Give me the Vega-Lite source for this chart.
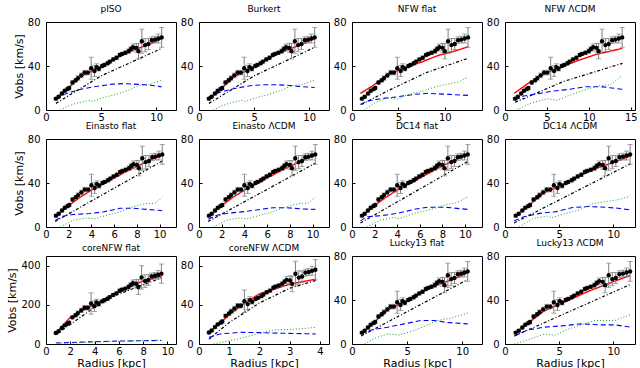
{
"$schema":"https://vega.github.io/schema/vega-lite/v6.json",
"padding":{"left":6,"top":4,"right":4,"bottom":2},
"background":"white",
"config":{"font":"DejaVu Sans","view":{"stroke":"black","strokeWidth":1},
"axis":{"grid":false,"domain":false,"labelFontSize":10,"labelColor":"black","tickColor":"black","tickSize":-3,"titleFontSize":11,"titleFontWeight":"normal","titleColor":"black","labelFlush":false,"labelOverlap":false,"labelBound":false,"labelSeparation":0},
"axisX":{"labelPadding":5,"titlePadding":1},
"axisY":{"labelPadding":9,"titlePadding":3},
"title":{"fontSize":9,"fontWeight":"normal","offset":3,"color":"black","anchor":"middle"}},
"datasets":{
"o":[
{"r":0.9,"rb":0.88,"rl":0.99,"rn":1.07,"rm":1.2,"rc":0.81,"rk":0.33,"v":10.3,"e":1,"vc":56.1,"ec":5.5,"vk":11.8,"ek":1.2},
{"r":1.15,"rb":1.12,"rl":1.27,"rn":1.37,"rm":1.53,"rc":1.04,"rk":0.42,"v":12,"e":1,"vc":65.4,"ec":5.5,"vk":13.8,"ek":1.2},
{"r":1.45,"rb":1.41,"rl":1.6,"rn":1.73,"rm":1.93,"rc":1.31,"rk":0.53,"v":15,"e":1.2,"vc":81.8,"ec":6.5,"vk":17.3,"ek":1.4},
{"r":1.7,"rb":1.66,"rl":1.87,"rn":2.02,"rm":2.26,"rc":1.54,"rk":0.62,"v":17.5,"e":1.2,"vc":95.4,"ec":6.5,"vk":20.1,"ek":1.4},
{"r":1.95,"rb":1.9,"rl":2.15,"rn":2.32,"rm":2.59,"rc":1.76,"rk":0.72,"v":19,"e":1.5,"vc":103.6,"ec":8.2,"vk":21.9,"ek":1.7},
{"r":2.1,"rb":2.05,"rl":2.31,"rn":2.5,"rm":2.79,"rc":1.9,"rk":0.77,"v":20,"e":1.5,"vc":109,"ec":8.2,"vk":23,"ek":1.7},
{"r":2.4,"rb":2.34,"rl":2.64,"rn":2.86,"rm":3.19,"rc":2.17,"rk":0.88,"v":25,"e":1.5,"vc":136.3,"ec":8.2,"vk":28.8,"ek":1.7},
{"r":2.7,"rb":2.63,"rl":2.97,"rn":3.21,"rm":3.59,"rc":2.44,"rk":0.99,"v":27,"e":1.5,"vc":147.2,"ec":8.2,"vk":31.1,"ek":1.7},
{"r":2.9,"rb":2.83,"rl":3.19,"rn":3.45,"rm":3.86,"rc":2.62,"rk":1.06,"v":29,"e":2,"vc":158.1,"ec":10.9,"vk":33.4,"ek":2.3},
{"r":3.2,"rb":3.12,"rl":3.52,"rn":3.81,"rm":4.26,"rc":2.9,"rk":1.17,"v":31.5,"e":2,"vc":171.7,"ec":10.9,"vk":36.2,"ek":2.3},
{"r":3.5,"rb":3.41,"rl":3.85,"rn":4.17,"rm":4.66,"rc":3.17,"rk":1.28,"v":34,"e":2,"vc":185.3,"ec":10.9,"vk":39.1,"ek":2.3},
{"r":3.8,"rb":3.71,"rl":4.18,"rn":4.52,"rm":5.05,"rc":3.44,"rk":1.39,"v":34,"e":2,"vc":185.3,"ec":10.9,"vk":39.1,"ek":2.3},
{"r":4.1,"rb":4,"rl":4.51,"rn":4.88,"rm":5.45,"rc":3.71,"rk":1.5,"v":38,"e":10,"vc":207.1,"ec":54.5,"vk":43.7,"ek":11.5},
{"r":4.4,"rb":4.29,"rl":4.84,"rn":5.24,"rm":5.85,"rc":3.98,"rk":1.61,"v":35.5,"e":5,"vc":193.5,"ec":27.3,"vk":40.8,"ek":5.8},
{"r":4.6,"rb":4.49,"rl":5.06,"rn":5.47,"rm":6.12,"rc":4.16,"rk":1.69,"v":39,"e":3,"vc":212.6,"ec":16.4,"vk":44.9,"ek":3.5},
{"r":4.8,"rb":4.68,"rl":5.28,"rn":5.71,"rm":6.38,"rc":4.34,"rk":1.76,"v":37.5,"e":2,"vc":204.4,"ec":10.9,"vk":43.1,"ek":2.3},
{"r":5.1,"rb":4.97,"rl":5.61,"rn":6.07,"rm":6.78,"rc":4.62,"rk":1.87,"v":40,"e":1.5,"vc":218,"ec":8.2,"vk":46,"ek":1.7},
{"r":5.3,"rb":5.17,"rl":5.83,"rn":6.31,"rm":7.05,"rc":4.8,"rk":1.95,"v":41,"e":1.5,"vc":223.5,"ec":8.2,"vk":47.2,"ek":1.7},
{"r":5.6,"rb":5.46,"rl":6.16,"rn":6.66,"rm":7.45,"rc":5.07,"rk":2.06,"v":42.5,"e":1.5,"vc":231.6,"ec":8.2,"vk":48.9,"ek":1.7},
{"r":5.8,"rb":5.66,"rl":6.38,"rn":6.9,"rm":7.71,"rc":5.25,"rk":2.13,"v":44,"e":1.5,"vc":239.8,"ec":8.2,"vk":50.6,"ek":1.7},
{"r":6.1,"rb":5.95,"rl":6.71,"rn":7.26,"rm":8.11,"rc":5.52,"rk":2.24,"v":46,"e":1.5,"vc":250.7,"ec":8.2,"vk":52.9,"ek":1.7},
{"r":6.4,"rb":6.24,"rl":7.04,"rn":7.62,"rm":8.51,"rc":5.79,"rk":2.35,"v":47.5,"e":1.5,"vc":258.9,"ec":8.2,"vk":54.6,"ek":1.7},
{"r":6.7,"rb":6.53,"rl":7.37,"rn":7.97,"rm":8.91,"rc":6.06,"rk":2.46,"v":50,"e":1.5,"vc":272.5,"ec":8.2,"vk":57.5,"ek":1.7},
{"r":6.9,"rb":6.73,"rl":7.59,"rn":8.21,"rm":9.18,"rc":6.24,"rk":2.53,"v":51,"e":1.5,"vc":278,"ec":8.2,"vk":58.7,"ek":1.7},
{"r":7.2,"rb":7.02,"rl":7.92,"rn":8.57,"rm":9.58,"rc":6.52,"rk":2.64,"v":52,"e":1.5,"vc":283.4,"ec":8.2,"vk":59.8,"ek":1.7},
{"r":7.5,"rb":7.31,"rl":8.25,"rn":8.93,"rm":9.98,"rc":6.79,"rk":2.75,"v":53.5,"e":2,"vc":291.6,"ec":10.9,"vk":61.5,"ek":2.3},
{"r":7.7,"rb":7.51,"rl":8.47,"rn":9.16,"rm":10.24,"rc":6.97,"rk":2.83,"v":55.5,"e":2,"vc":302.5,"ec":10.9,"vk":63.8,"ek":2.3},
{"r":7.9,"rb":7.7,"rl":8.69,"rn":9.4,"rm":10.51,"rc":7.15,"rk":2.9,"v":57,"e":3,"vc":310.7,"ec":16.4,"vk":65.6,"ek":3.5},
{"r":8.2,"rb":8,"rl":9.02,"rn":9.76,"rm":10.91,"rc":7.42,"rk":3.01,"v":56.5,"e":4,"vc":307.9,"ec":21.8,"vk":65,"ek":4.6},
{"r":8.4,"rb":8.19,"rl":9.24,"rn":10,"rm":11.17,"rc":7.6,"rk":3.08,"v":53.5,"e":7,"vc":291.6,"ec":38.2,"vk":61.5,"ek":8},
{"r":8.7,"rb":8.48,"rl":9.57,"rn":10.35,"rm":11.57,"rc":7.87,"rk":3.19,"v":62.5,"e":11,"vc":340.6,"ec":60,"vk":71.9,"ek":12.7},
{"r":9,"rb":8.78,"rl":9.9,"rn":10.71,"rm":11.97,"rc":8.15,"rk":3.3,"v":59,"e":6,"vc":321.6,"ec":32.7,"vk":67.9,"ek":6.9},
{"r":9.3,"rb":9.07,"rl":10.23,"rn":11.07,"rm":12.37,"rc":8.42,"rk":3.41,"v":60,"e":5,"vc":327,"ec":27.3,"vk":69,"ek":5.8},
{"r":9.6,"rb":9.36,"rl":10.56,"rn":11.42,"rm":12.77,"rc":8.69,"rk":3.52,"v":63.5,"e":3,"vc":346.1,"ec":16.4,"vk":73,"ek":3.5},
{"r":9.9,"rb":9.65,"rl":10.89,"rn":11.78,"rm":13.17,"rc":8.96,"rk":3.63,"v":64,"e":3,"vc":348.8,"ec":16.4,"vk":73.6,"ek":3.5},
{"r":10.2,"rb":9.95,"rl":11.22,"rn":12.14,"rm":13.57,"rc":9.23,"rk":3.74,"v":65,"e":4,"vc":354.3,"ec":21.8,"vk":74.8,"ek":4.6},
{"r":10.5,"rb":10.24,"rl":11.55,"rn":12.5,"rm":13.97,"rc":9.5,"rk":3.85,"v":66,"e":9,"vc":359.7,"ec":49,"vk":75.9,"ek":10.4}
],
"m":[
{"p":"a","c":"T","r":0.9,"v":10.3},{"p":"a","c":"T","r":2.06,"v":20.3},{"p":"a","c":"T","r":3.27,"v":31},{"p":"a","c":"T","r":4.5,"v":37},{"p":"a","c":"T","r":5.7,"v":43},{"p":"a","c":"T","r":6.9,"v":50},{"p":"a","c":"T","r":8.1,"v":55},{"p":"a","c":"T","r":9.3,"v":59.4},{"p":"a","c":"T","r":10.5,"v":64.8},
{"p":"a","c":"S","r":0.9,"v":6},{"p":"a","c":"S","r":5,"v":31},{"p":"a","c":"S","r":10.5,"v":56},
{"p":"a","c":"H","r":0.9,"v":11},{"p":"a","c":"H","r":2,"v":15.5},{"p":"a","c":"H","r":3,"v":18.5},{"p":"a","c":"H","r":4,"v":20.5},{"p":"a","c":"H","r":5,"v":22},{"p":"a","c":"H","r":6,"v":23.5},{"p":"a","c":"H","r":7,"v":24},{"p":"a","c":"H","r":8,"v":23.5},{"p":"a","c":"H","r":9,"v":23},{"p":"a","c":"H","r":10,"v":22},{"p":"a","c":"H","r":10.5,"v":21},
{"p":"a","c":"G","r":1.3,"v":0},{"p":"a","c":"G","r":2,"v":3.5},{"p":"a","c":"G","r":2.7,"v":6},{"p":"a","c":"G","r":3.9,"v":8.8},{"p":"a","c":"G","r":4.2,"v":7.6},{"p":"a","c":"G","r":5.1,"v":11},{"p":"a","c":"G","r":6.3,"v":14},{"p":"a","c":"G","r":7.5,"v":18},{"p":"a","c":"G","r":8.4,"v":22},{"p":"a","c":"G","r":9.3,"v":23},{"p":"a","c":"G","r":9.9,"v":25},{"p":"a","c":"G","r":10.5,"v":27},
{"p":"b","c":"T","r":0.9,"v":10},{"p":"b","c":"T","r":2.06,"v":20},{"p":"b","c":"T","r":3.27,"v":30.5},{"p":"b","c":"T","r":4.5,"v":37},{"p":"b","c":"T","r":5.7,"v":43},{"p":"b","c":"T","r":6.9,"v":50},{"p":"b","c":"T","r":8.1,"v":55},{"p":"b","c":"T","r":9.3,"v":59.5},{"p":"b","c":"T","r":10.5,"v":65},
{"p":"b","c":"S","r":0.9,"v":6},{"p":"b","c":"S","r":5,"v":31},{"p":"b","c":"S","r":10.5,"v":57},
{"p":"b","c":"H","r":0.9,"v":12},{"p":"b","c":"H","r":2,"v":16.5},{"p":"b","c":"H","r":3,"v":19},{"p":"b","c":"H","r":4,"v":21},{"p":"b","c":"H","r":5,"v":22.5},{"p":"b","c":"H","r":6,"v":23},{"p":"b","c":"H","r":7,"v":23},{"p":"b","c":"H","r":8,"v":22.5},{"p":"b","c":"H","r":9,"v":21.5},{"p":"b","c":"H","r":10.5,"v":20.5},
{"p":"b","c":"G","r":1.3,"v":0},{"p":"b","c":"G","r":2,"v":3.5},{"p":"b","c":"G","r":2.7,"v":6},{"p":"b","c":"G","r":3.9,"v":8.8},{"p":"b","c":"G","r":4.2,"v":7.6},{"p":"b","c":"G","r":5.1,"v":11},{"p":"b","c":"G","r":6.3,"v":14},{"p":"b","c":"G","r":7.5,"v":18},{"p":"b","c":"G","r":8.4,"v":22},{"p":"b","c":"G","r":9.3,"v":23},{"p":"b","c":"G","r":9.9,"v":25},{"p":"b","c":"G","r":10.5,"v":27},
{"p":"c","c":"T","r":0.9,"v":15},{"p":"c","c":"T","r":2.4,"v":23},{"p":"c","c":"T","r":3.8,"v":32.4},{"p":"c","c":"T","r":5.6,"v":38},{"p":"c","c":"T","r":7.5,"v":43.6},{"p":"c","c":"T","r":9.3,"v":49.7},{"p":"c","c":"T","r":11.1,"v":53.6},{"p":"c","c":"T","r":12.5,"v":57.5},
{"p":"c","c":"S","r":1,"v":5},{"p":"c","c":"S","r":4,"v":18},{"p":"c","c":"S","r":8,"v":34},{"p":"c","c":"S","r":12.5,"v":47},
{"p":"c","c":"H","r":0.9,"v":5},{"p":"c","c":"H","r":1.6,"v":8},{"p":"c","c":"H","r":3.1,"v":10.3},{"p":"c","c":"H","r":4.9,"v":12},{"p":"c","c":"H","r":6.7,"v":14.2},{"p":"c","c":"H","r":8.2,"v":15.2},{"p":"c","c":"H","r":10.4,"v":14.2},{"p":"c","c":"H","r":12.5,"v":13.3},
{"p":"c","c":"G","r":1.3,"v":0},{"p":"c","c":"G","r":2.5,"v":6.7},{"p":"c","c":"G","r":3.8,"v":11},{"p":"c","c":"G","r":4.9,"v":9.7},{"p":"c","c":"G","r":6,"v":14},{"p":"c","c":"G","r":7.5,"v":17},{"p":"c","c":"G","r":9.3,"v":21.8},{"p":"c","c":"G","r":10.5,"v":24},{"p":"c","c":"G","r":11.5,"v":25.5},{"p":"c","c":"G","r":12.5,"v":30},
{"p":"d","c":"T","r":1.1,"v":15.2},{"p":"d","c":"T","r":3,"v":25.5},{"p":"d","c":"T","r":5,"v":34},{"p":"d","c":"T","r":7,"v":40},{"p":"d","c":"T","r":8.9,"v":45.5},{"p":"d","c":"T","r":10.9,"v":50.6},{"p":"d","c":"T","r":14,"v":56},
{"p":"d","c":"S","r":1.2,"v":7},{"p":"d","c":"S","r":7,"v":26},{"p":"d","c":"S","r":14,"v":42.4},
{"p":"d","c":"H","r":1.2,"v":9},{"p":"d","c":"H","r":2.2,"v":12.7},{"p":"d","c":"H","r":4.2,"v":15.2},{"p":"d","c":"H","r":5.75,"v":17.3},{"p":"d","c":"H","r":7.7,"v":18.8},{"p":"d","c":"H","r":9.7,"v":21.2},{"p":"d","c":"H","r":11.7,"v":21},{"p":"d","c":"H","r":14,"v":18.8},
{"p":"d","c":"G","r":1.4,"v":0},{"p":"d","c":"G","r":3,"v":6},{"p":"d","c":"G","r":5,"v":10.3},{"p":"d","c":"G","r":6.2,"v":8.8},{"p":"d","c":"G","r":7.7,"v":13.3},{"p":"d","c":"G","r":9.7,"v":18.8},{"p":"d","c":"G","r":11.3,"v":22.4},{"p":"d","c":"G","r":12.5,"v":22.7},{"p":"d","c":"G","r":14,"v":31.5},
{"p":"e","c":"T","r":0.88,"v":10},{"p":"e","c":"T","r":2,"v":19.5},{"p":"e","c":"T","r":3,"v":27},{"p":"e","c":"T","r":4,"v":33.5},{"p":"e","c":"T","r":5,"v":39},{"p":"e","c":"T","r":6,"v":44.5},{"p":"e","c":"T","r":7,"v":50},{"p":"e","c":"T","r":8,"v":55},{"p":"e","c":"T","r":9,"v":60},{"p":"e","c":"T","r":10.24,"v":65.5},
{"p":"e","c":"S","r":0.8,"v":5},{"p":"e","c":"S","r":10.24,"v":60},
{"p":"e","c":"H","r":0.82,"v":6.2},{"p":"e","c":"H","r":1.55,"v":10},{"p":"e","c":"H","r":2.4,"v":11.4},{"p":"e","c":"H","r":3.9,"v":12.3},{"p":"e","c":"H","r":5.1,"v":13.8},{"p":"e","c":"H","r":6.5,"v":17},{"p":"e","c":"H","r":7.7,"v":17},{"p":"e","c":"H","r":8.9,"v":16},{"p":"e","c":"H","r":10.24,"v":14.8},
{"p":"e","c":"G","r":1.26,"v":0},{"p":"e","c":"G","r":2.4,"v":6.2},{"p":"e","c":"G","r":3.6,"v":8.3},{"p":"e","c":"G","r":4.25,"v":7.4},{"p":"e","c":"G","r":5.4,"v":10.8},{"p":"e","c":"G","r":6.5,"v":13.8},{"p":"e","c":"G","r":7.7,"v":18.5},{"p":"e","c":"G","r":8.9,"v":21.5},{"p":"e","c":"G","r":9.6,"v":21.5},{"p":"e","c":"G","r":10.24,"v":27},
{"p":"f","c":"T","r":0.88,"v":10},{"p":"f","c":"T","r":2,"v":19.5},{"p":"f","c":"T","r":3,"v":27},{"p":"f","c":"T","r":4,"v":33.5},{"p":"f","c":"T","r":5,"v":39},{"p":"f","c":"T","r":6,"v":44.5},{"p":"f","c":"T","r":7,"v":50},{"p":"f","c":"T","r":8,"v":55},{"p":"f","c":"T","r":9,"v":60},{"p":"f","c":"T","r":10.24,"v":65.5},
{"p":"f","c":"S","r":0.8,"v":5},{"p":"f","c":"S","r":10.24,"v":58},
{"p":"f","c":"H","r":0.82,"v":7},{"p":"f","c":"H","r":1.5,"v":10.5},{"p":"f","c":"H","r":2.5,"v":12.5},{"p":"f","c":"H","r":4,"v":14},{"p":"f","c":"H","r":5,"v":15.5},{"p":"f","c":"H","r":6.5,"v":17.5},{"p":"f","c":"H","r":7.7,"v":17.5},{"p":"f","c":"H","r":9,"v":16.5},{"p":"f","c":"H","r":10.24,"v":16},
{"p":"f","c":"G","r":1.26,"v":0},{"p":"f","c":"G","r":2.4,"v":6.2},{"p":"f","c":"G","r":3.6,"v":8.3},{"p":"f","c":"G","r":4.25,"v":7.4},{"p":"f","c":"G","r":5.4,"v":10.8},{"p":"f","c":"G","r":6.5,"v":13.8},{"p":"f","c":"G","r":7.7,"v":18.5},{"p":"f","c":"G","r":8.9,"v":21.5},{"p":"f","c":"G","r":9.6,"v":21.5},{"p":"f","c":"G","r":10.24,"v":27},
{"p":"g","c":"T","r":0.88,"v":10},{"p":"g","c":"T","r":2,"v":19.5},{"p":"g","c":"T","r":3,"v":27},{"p":"g","c":"T","r":4,"v":33.5},{"p":"g","c":"T","r":5,"v":39},{"p":"g","c":"T","r":6,"v":44.5},{"p":"g","c":"T","r":7,"v":50},{"p":"g","c":"T","r":8,"v":55.5},{"p":"g","c":"T","r":9,"v":60.5},{"p":"g","c":"T","r":10.24,"v":66},
{"p":"g","c":"S","r":0.75,"v":3.7},{"p":"g","c":"S","r":10.24,"v":59.5},
{"p":"g","c":"H","r":0.75,"v":5.6},{"p":"g","c":"H","r":1.3,"v":9.3},{"p":"g","c":"H","r":2.5,"v":10.2},{"p":"g","c":"H","r":4,"v":12.4},{"p":"g","c":"H","r":5.5,"v":16},{"p":"g","c":"H","r":6.7,"v":18},{"p":"g","c":"H","r":8.2,"v":18},{"p":"g","c":"H","r":10.24,"v":16},
{"p":"g","c":"G","r":1.3,"v":0},{"p":"g","c":"G","r":2.5,"v":6.2},{"p":"g","c":"G","r":3.7,"v":8.7},{"p":"g","c":"G","r":4.15,"v":7.4},{"p":"g","c":"G","r":5.5,"v":12.4},{"p":"g","c":"G","r":7,"v":16},{"p":"g","c":"G","r":8.2,"v":20},{"p":"g","c":"G","r":9.3,"v":22.3},{"p":"g","c":"G","r":10.24,"v":27.3},
{"p":"h","c":"T","r":0.99,"v":10.3},{"p":"h","c":"T","r":2.27,"v":20.3},{"p":"h","c":"T","r":3.6,"v":31},{"p":"h","c":"T","r":4.95,"v":37},{"p":"h","c":"T","r":6.27,"v":43},{"p":"h","c":"T","r":7.59,"v":50},{"p":"h","c":"T","r":8.91,"v":55},{"p":"h","c":"T","r":10.23,"v":59.4},{"p":"h","c":"T","r":11.55,"v":64.5},
{"p":"h","c":"S","r":0.84,"v":3.7},{"p":"h","c":"S","r":11.55,"v":57.4},
{"p":"h","c":"H","r":0.84,"v":5.6},{"p":"h","c":"H","r":1.75,"v":9.3},{"p":"h","c":"H","r":3.2,"v":12.4},{"p":"h","c":"H","r":4.75,"v":14},{"p":"h","c":"H","r":6.25,"v":17.7},{"p":"h","c":"H","r":7.75,"v":18.6},{"p":"h","c":"H","r":9.25,"v":18},{"p":"h","c":"H","r":10.45,"v":17},{"p":"h","c":"H","r":11.55,"v":15.5},
{"p":"h","c":"G","r":1.3,"v":0},{"p":"h","c":"G","r":2.6,"v":7.7},{"p":"h","c":"G","r":3.85,"v":9.9},{"p":"h","c":"G","r":4.3,"v":8.4},{"p":"h","c":"G","r":5.65,"v":12.4},{"p":"h","c":"G","r":6.85,"v":15.5},{"p":"h","c":"G","r":8.05,"v":21},{"p":"h","c":"G","r":9.25,"v":23},{"p":"h","c":"G","r":10.45,"v":24.8},{"p":"h","c":"G","r":11.55,"v":28},
{"p":"i","c":"T","r":0.81,"v":55},{"p":"i","c":"T","r":2,"v":137},{"p":"i","c":"T","r":4,"v":205},{"p":"i","c":"T","r":6,"v":268},{"p":"i","c":"T","r":8,"v":323},{"p":"i","c":"T","r":9.5,"v":345},
{"p":"i","c":"S","r":0.81,"v":48},{"p":"i","c":"S","r":5,"v":232},{"p":"i","c":"S","r":9.5,"v":338},
{"p":"i","c":"H","r":0.81,"v":5},{"p":"i","c":"H","r":3,"v":10},{"p":"i","c":"H","r":6,"v":15},{"p":"i","c":"H","r":9.5,"v":18},
{"p":"i","c":"G","r":1,"v":0},{"p":"i","c":"G","r":3,"v":8},{"p":"i","c":"G","r":6,"v":14},{"p":"i","c":"G","r":9.5,"v":20},
{"p":"j","c":"T","r":0.33,"v":11.5},{"p":"j","c":"T","r":1,"v":29.7},{"p":"j","c":"T","r":1.5,"v":41.7},{"p":"j","c":"T","r":2,"v":51.3},{"p":"j","c":"T","r":3,"v":61.2},{"p":"j","c":"T","r":3.86,"v":66.3},
{"p":"j","c":"S","r":0.33,"v":5},{"p":"j","c":"S","r":1,"v":22},{"p":"j","c":"S","r":2,"v":42},{"p":"j","c":"S","r":3,"v":57},{"p":"j","c":"S","r":3.86,"v":65},
{"p":"j","c":"H","r":0.33,"v":6.8},{"p":"j","c":"H","r":0.7,"v":10.3},{"p":"j","c":"H","r":1.36,"v":12},{"p":"j","c":"H","r":2.03,"v":11.6},{"p":"j","c":"H","r":2.7,"v":11},{"p":"j","c":"H","r":3.86,"v":10.3},
{"p":"j","c":"G","r":0.48,"v":0},{"p":"j","c":"G","r":1.14,"v":4.1},{"p":"j","c":"G","r":1.8,"v":9.2},{"p":"j","c":"G","r":2.47,"v":14.4},{"p":"j","c":"G","r":3.13,"v":15},{"p":"j","c":"G","r":3.86,"v":17},
{"p":"k","c":"T","r":0.9,"v":10.3},{"p":"k","c":"T","r":2.06,"v":20.3},{"p":"k","c":"T","r":3.27,"v":31},{"p":"k","c":"T","r":4.5,"v":37},{"p":"k","c":"T","r":5.7,"v":43},{"p":"k","c":"T","r":6.9,"v":50},{"p":"k","c":"T","r":8.1,"v":55},{"p":"k","c":"T","r":9.3,"v":59.4},{"p":"k","c":"T","r":10.5,"v":64.8},
{"p":"k","c":"S","r":0.84,"v":7.3},{"p":"k","c":"S","r":10.5,"v":58.6},
{"p":"k","c":"H","r":0.84,"v":9.2},{"p":"k","c":"H","r":1.75,"v":12.8},{"p":"k","c":"H","r":3.25,"v":15.3},{"p":"k","c":"H","r":4.75,"v":18.3},{"p":"k","c":"H","r":6.25,"v":21.4},{"p":"k","c":"H","r":7.45,"v":21.4},{"p":"k","c":"H","r":8.65,"v":19.5},{"p":"k","c":"H","r":10.5,"v":18.3},
{"p":"k","c":"G","r":1.15,"v":0},{"p":"k","c":"G","r":2.05,"v":5.2},{"p":"k","c":"G","r":3.25,"v":9.2},{"p":"k","c":"G","r":4.3,"v":8.2},{"p":"k","c":"G","r":5.35,"v":11.3},{"p":"k","c":"G","r":6.55,"v":15.9},{"p":"k","c":"G","r":7.75,"v":21.4},{"p":"k","c":"G","r":8.95,"v":23.5},{"p":"k","c":"G","r":10.5,"v":28},
{"p":"l","c":"T","r":0.99,"v":10.3},{"p":"l","c":"T","r":2.27,"v":20},{"p":"l","c":"T","r":3.6,"v":30},{"p":"l","c":"T","r":4.95,"v":36},{"p":"l","c":"T","r":6.27,"v":41.5},{"p":"l","c":"T","r":7.59,"v":47.5},{"p":"l","c":"T","r":8.91,"v":52.5},{"p":"l","c":"T","r":10.23,"v":57.5},{"p":"l","c":"T","r":11.55,"v":62.3},
{"p":"l","c":"S","r":0.87,"v":7.3},{"p":"l","c":"S","r":11.55,"v":54},
{"p":"l","c":"H","r":0.87,"v":7.3},{"p":"l","c":"H","r":2.1,"v":12.8},{"p":"l","c":"H","r":3.65,"v":15.3},{"p":"l","c":"H","r":5.2,"v":16.5},{"p":"l","c":"H","r":7.05,"v":18.3},{"p":"l","c":"H","r":8.6,"v":17.4},{"p":"l","c":"H","r":10.15,"v":17.4},{"p":"l","c":"H","r":11.55,"v":15.3},
{"p":"l","c":"G","r":0.87,"v":0},{"p":"l","c":"G","r":2.1,"v":3.7},{"p":"l","c":"G","r":3.65,"v":9.2},{"p":"l","c":"G","r":4.6,"v":8},{"p":"l","c":"G","r":5.8,"v":13.4},{"p":"l","c":"G","r":7.05,"v":17.4},{"p":"l","c":"G","r":8.3,"v":21.4},{"p":"l","c":"G","r":10.15,"v":21.4},{"p":"l","c":"G","r":11.55,"v":26.6}
]},
"columns":4,
"spacing":{"row":29,"column":23},
"bounds":"flush",
"concat":[
{"title":"pISO","width":130,"height":88,"layer":[
{"data":{"name":"m"},"transform":[{"filter":"datum.p=='a'"}],"mark":{"type":"line"},"encoding":{"x":{"field":"r","type":"quantitative","scale":{"domain":[0,11.8]},"axis":{"values":[0,5,10],"title":null,"labelOverlap":false}},"y":{"field":"v","type":"quantitative","scale":{"domain":[0,80]},"axis":{"values":[0,20,40,60,80],"title":"Vobs [km/s]"}},"color":{"field":"c","type":"nominal","scale":{"domain":["T","S","H","G"],"range":["#ff0000","#000000","#0000ff","#009900"]},"legend":null},"strokeDash":{"field":"c","type":"nominal","scale":{"domain":["T","S","H","G"],"range":[[1,0],[3,2,1,2],[5,3],[1,2]]},"legend":null},"strokeWidth":{"field":"c","type":"nominal","scale":{"domain":["T","S","H","G"],"range":[1.4,0.9,1.4,1]},"legend":null}}},
{"data":{"name":"o"},"mark":{"type":"errorbar","ticks":{"size":5},"color":"#808080"},"encoding":{"x":{"field":"r","type":"quantitative","scale":{"domain":[0,11.8]},"axis":{"values":[0,5,10],"title":null,"labelOverlap":false}},"y":{"field":"v","type":"quantitative","scale":{"domain":[0,80]},"title":"Vobs [km/s]"},"yError":{"field":"e"}}},
{"data":{"name":"o"},"mark":{"type":"circle","size":19,"color":"black","opacity":1},"encoding":{"x":{"field":"r","type":"quantitative","scale":{"domain":[0,11.8]},"axis":{"values":[0,5,10],"title":null,"labelOverlap":false}},"y":{"field":"v","type":"quantitative","scale":{"domain":[0,80]},"title":"Vobs [km/s]"}}}]},
{"title":"Burkert","width":130,"height":88,"layer":[
{"data":{"name":"m"},"transform":[{"filter":"datum.p=='b'"}],"mark":{"type":"line"},"encoding":{"x":{"field":"r","type":"quantitative","scale":{"domain":[0,11.8]},"axis":{"values":[0,5,10],"title":null,"labelOverlap":false}},"y":{"field":"v","type":"quantitative","scale":{"domain":[0,80]},"axis":{"values":[0,20,40,60,80],"title":null}},"color":{"field":"c","type":"nominal","scale":{"domain":["T","S","H","G"],"range":["#ff0000","#000000","#0000ff","#009900"]},"legend":null},"strokeDash":{"field":"c","type":"nominal","scale":{"domain":["T","S","H","G"],"range":[[1,0],[3,2,1,2],[5,3],[1,2]]},"legend":null},"strokeWidth":{"field":"c","type":"nominal","scale":{"domain":["T","S","H","G"],"range":[1.4,0.9,1.4,1]},"legend":null}}},
{"data":{"name":"o"},"mark":{"type":"errorbar","ticks":{"size":5},"color":"#808080"},"encoding":{"x":{"field":"r","type":"quantitative","scale":{"domain":[0,11.8]},"axis":{"values":[0,5,10],"title":null,"labelOverlap":false}},"y":{"field":"v","type":"quantitative","scale":{"domain":[0,80]},"title":null},"yError":{"field":"e"}}},
{"data":{"name":"o"},"mark":{"type":"circle","size":19,"color":"black","opacity":1},"encoding":{"x":{"field":"r","type":"quantitative","scale":{"domain":[0,11.8]},"axis":{"values":[0,5,10],"title":null,"labelOverlap":false}},"y":{"field":"v","type":"quantitative","scale":{"domain":[0,80]},"title":null}}}]},
{"title":"NFW flat","width":130,"height":88,"layer":[
{"data":{"name":"m"},"transform":[{"filter":"datum.p=='c'"}],"mark":{"type":"line"},"encoding":{"x":{"field":"r","type":"quantitative","scale":{"domain":[0,14]},"axis":{"values":[0,5,10],"title":null,"labelOverlap":false}},"y":{"field":"v","type":"quantitative","scale":{"domain":[0,80]},"axis":{"values":[0,20,40,60,80],"title":null}},"color":{"field":"c","type":"nominal","scale":{"domain":["T","S","H","G"],"range":["#ff0000","#000000","#0000ff","#009900"]},"legend":null},"strokeDash":{"field":"c","type":"nominal","scale":{"domain":["T","S","H","G"],"range":[[1,0],[3,2,1,2],[5,3],[1,2]]},"legend":null},"strokeWidth":{"field":"c","type":"nominal","scale":{"domain":["T","S","H","G"],"range":[1.4,0.9,1.4,1]},"legend":null}}},
{"data":{"name":"o"},"mark":{"type":"errorbar","ticks":{"size":5},"color":"#808080"},"encoding":{"x":{"field":"rn","type":"quantitative","scale":{"domain":[0,14]},"axis":{"values":[0,5,10],"title":null,"labelOverlap":false}},"y":{"field":"v","type":"quantitative","scale":{"domain":[0,80]},"title":null},"yError":{"field":"e"}}},
{"data":{"name":"o"},"mark":{"type":"circle","size":19,"color":"black","opacity":1},"encoding":{"x":{"field":"rn","type":"quantitative","scale":{"domain":[0,14]},"axis":{"values":[0,5,10],"title":null,"labelOverlap":false}},"y":{"field":"v","type":"quantitative","scale":{"domain":[0,80]},"title":null}}}]},
{"title":"NFW ΛCDM","width":130,"height":88,"layer":[
{"data":{"name":"m"},"transform":[{"filter":"datum.p=='d'"}],"mark":{"type":"line"},"encoding":{"x":{"field":"r","type":"quantitative","scale":{"domain":[0,15.5]},"axis":{"values":[0,5,10,15],"title":null,"labelOverlap":false}},"y":{"field":"v","type":"quantitative","scale":{"domain":[0,80]},"axis":{"values":[0,20,40,60,80],"title":null}},"color":{"field":"c","type":"nominal","scale":{"domain":["T","S","H","G"],"range":["#ff0000","#000000","#0000ff","#009900"]},"legend":null},"strokeDash":{"field":"c","type":"nominal","scale":{"domain":["T","S","H","G"],"range":[[1,0],[3,2,1,2],[5,3],[1,2]]},"legend":null},"strokeWidth":{"field":"c","type":"nominal","scale":{"domain":["T","S","H","G"],"range":[1.4,0.9,1.4,1]},"legend":null}}},
{"data":{"name":"o"},"mark":{"type":"errorbar","ticks":{"size":5},"color":"#808080"},"encoding":{"x":{"field":"rm","type":"quantitative","scale":{"domain":[0,15.5]},"axis":{"values":[0,5,10,15],"title":null,"labelOverlap":false}},"y":{"field":"v","type":"quantitative","scale":{"domain":[0,80]},"title":null},"yError":{"field":"e"}}},
{"data":{"name":"o"},"mark":{"type":"circle","size":19,"color":"black","opacity":1},"encoding":{"x":{"field":"rm","type":"quantitative","scale":{"domain":[0,15.5]},"axis":{"values":[0,5,10,15],"title":null,"labelOverlap":false}},"y":{"field":"v","type":"quantitative","scale":{"domain":[0,80]},"title":null}}}]},
{"title":"Einasto flat","width":130,"height":88,"layer":[
{"data":{"name":"m"},"transform":[{"filter":"datum.p=='e'"}],"mark":{"type":"line"},"encoding":{"x":{"field":"r","type":"quantitative","scale":{"domain":[0,11.45]},"axis":{"values":[0,2,4,6,8,10],"title":null,"labelOverlap":false}},"y":{"field":"v","type":"quantitative","scale":{"domain":[0,80]},"axis":{"values":[0,20,40,60,80],"title":"Vobs [km/s]"}},"color":{"field":"c","type":"nominal","scale":{"domain":["T","S","H","G"],"range":["#ff0000","#000000","#0000ff","#009900"]},"legend":null},"strokeDash":{"field":"c","type":"nominal","scale":{"domain":["T","S","H","G"],"range":[[1,0],[3,2,1,2],[5,3],[1,2]]},"legend":null},"strokeWidth":{"field":"c","type":"nominal","scale":{"domain":["T","S","H","G"],"range":[1.4,0.9,1.4,1]},"legend":null}}},
{"data":{"name":"o"},"mark":{"type":"errorbar","ticks":{"size":5},"color":"#808080"},"encoding":{"x":{"field":"rb","type":"quantitative","scale":{"domain":[0,11.45]},"axis":{"values":[0,2,4,6,8,10],"title":null,"labelOverlap":false}},"y":{"field":"v","type":"quantitative","scale":{"domain":[0,80]},"title":"Vobs [km/s]"},"yError":{"field":"e"}}},
{"data":{"name":"o"},"mark":{"type":"circle","size":19,"color":"black","opacity":1},"encoding":{"x":{"field":"rb","type":"quantitative","scale":{"domain":[0,11.45]},"axis":{"values":[0,2,4,6,8,10],"title":null,"labelOverlap":false}},"y":{"field":"v","type":"quantitative","scale":{"domain":[0,80]},"title":"Vobs [km/s]"}}}]},
{"title":"Einasto ΛCDM","width":130,"height":88,"layer":[
{"data":{"name":"m"},"transform":[{"filter":"datum.p=='f'"}],"mark":{"type":"line"},"encoding":{"x":{"field":"r","type":"quantitative","scale":{"domain":[0,11.45]},"axis":{"values":[0,2,4,6,8,10],"title":null,"labelOverlap":false}},"y":{"field":"v","type":"quantitative","scale":{"domain":[0,80]},"axis":{"values":[0,20,40,60,80],"title":null}},"color":{"field":"c","type":"nominal","scale":{"domain":["T","S","H","G"],"range":["#ff0000","#000000","#0000ff","#009900"]},"legend":null},"strokeDash":{"field":"c","type":"nominal","scale":{"domain":["T","S","H","G"],"range":[[1,0],[3,2,1,2],[5,3],[1,2]]},"legend":null},"strokeWidth":{"field":"c","type":"nominal","scale":{"domain":["T","S","H","G"],"range":[1.4,0.9,1.4,1]},"legend":null}}},
{"data":{"name":"o"},"mark":{"type":"errorbar","ticks":{"size":5},"color":"#808080"},"encoding":{"x":{"field":"rb","type":"quantitative","scale":{"domain":[0,11.45]},"axis":{"values":[0,2,4,6,8,10],"title":null,"labelOverlap":false}},"y":{"field":"v","type":"quantitative","scale":{"domain":[0,80]},"title":null},"yError":{"field":"e"}}},
{"data":{"name":"o"},"mark":{"type":"circle","size":19,"color":"black","opacity":1},"encoding":{"x":{"field":"rb","type":"quantitative","scale":{"domain":[0,11.45]},"axis":{"values":[0,2,4,6,8,10],"title":null,"labelOverlap":false}},"y":{"field":"v","type":"quantitative","scale":{"domain":[0,80]},"title":null}}}]},
{"title":"DC14 flat","width":130,"height":88,"layer":[
{"data":{"name":"m"},"transform":[{"filter":"datum.p=='g'"}],"mark":{"type":"line"},"encoding":{"x":{"field":"r","type":"quantitative","scale":{"domain":[0,11.5]},"axis":{"values":[0,2,4,6,8,10],"title":null,"labelOverlap":false}},"y":{"field":"v","type":"quantitative","scale":{"domain":[0,80]},"axis":{"values":[0,20,40,60,80],"title":null}},"color":{"field":"c","type":"nominal","scale":{"domain":["T","S","H","G"],"range":["#ff0000","#000000","#0000ff","#009900"]},"legend":null},"strokeDash":{"field":"c","type":"nominal","scale":{"domain":["T","S","H","G"],"range":[[1,0],[3,2,1,2],[5,3],[1,2]]},"legend":null},"strokeWidth":{"field":"c","type":"nominal","scale":{"domain":["T","S","H","G"],"range":[1.4,0.9,1.4,1]},"legend":null}}},
{"data":{"name":"o"},"mark":{"type":"errorbar","ticks":{"size":5},"color":"#808080"},"encoding":{"x":{"field":"rb","type":"quantitative","scale":{"domain":[0,11.5]},"axis":{"values":[0,2,4,6,8,10],"title":null,"labelOverlap":false}},"y":{"field":"v","type":"quantitative","scale":{"domain":[0,80]},"title":null},"yError":{"field":"e"}}},
{"data":{"name":"o"},"mark":{"type":"circle","size":19,"color":"black","opacity":1},"encoding":{"x":{"field":"rb","type":"quantitative","scale":{"domain":[0,11.5]},"axis":{"values":[0,2,4,6,8,10],"title":null,"labelOverlap":false}},"y":{"field":"v","type":"quantitative","scale":{"domain":[0,80]},"title":null}}}]},
{"title":"DC14 ΛCDM","width":130,"height":88,"layer":[
{"data":{"name":"m"},"transform":[{"filter":"datum.p=='h'"}],"mark":{"type":"line"},"encoding":{"x":{"field":"r","type":"quantitative","scale":{"domain":[0,12]},"axis":{"values":[0,5,10],"title":null,"labelOverlap":false}},"y":{"field":"v","type":"quantitative","scale":{"domain":[0,80]},"axis":{"values":[0,20,40,60,80],"title":null}},"color":{"field":"c","type":"nominal","scale":{"domain":["T","S","H","G"],"range":["#ff0000","#000000","#0000ff","#009900"]},"legend":null},"strokeDash":{"field":"c","type":"nominal","scale":{"domain":["T","S","H","G"],"range":[[1,0],[3,2,1,2],[5,3],[1,2]]},"legend":null},"strokeWidth":{"field":"c","type":"nominal","scale":{"domain":["T","S","H","G"],"range":[1.4,0.9,1.4,1]},"legend":null}}},
{"data":{"name":"o"},"mark":{"type":"errorbar","ticks":{"size":5},"color":"#808080"},"encoding":{"x":{"field":"rl","type":"quantitative","scale":{"domain":[0,12]},"axis":{"values":[0,5,10],"title":null,"labelOverlap":false}},"y":{"field":"v","type":"quantitative","scale":{"domain":[0,80]},"title":null},"yError":{"field":"e"}}},
{"data":{"name":"o"},"mark":{"type":"circle","size":19,"color":"black","opacity":1},"encoding":{"x":{"field":"rl","type":"quantitative","scale":{"domain":[0,12]},"axis":{"values":[0,5,10],"title":null,"labelOverlap":false}},"y":{"field":"v","type":"quantitative","scale":{"domain":[0,80]},"title":null}}}]},
{"title":"coreNFW flat","width":130,"height":88,"layer":[
{"data":{"name":"m"},"transform":[{"filter":"datum.p=='i'"}],"mark":{"type":"line"},"encoding":{"x":{"field":"r","type":"quantitative","scale":{"domain":[0,10.7]},"axis":{"values":[0,2,4,6,8,10],"title":"Radius [kpc]","labelOverlap":false}},"y":{"field":"v","type":"quantitative","scale":{"domain":[0,450]},"axis":{"values":[0,100,200,300,400],"title":"Vobs [km/s]"}},"color":{"field":"c","type":"nominal","scale":{"domain":["T","S","H","G"],"range":["#ff0000","#000000","#0000ff","#009900"]},"legend":null},"strokeDash":{"field":"c","type":"nominal","scale":{"domain":["T","S","H","G"],"range":[[1,0],[3,2,1,2],[5,3],[1,2]]},"legend":null},"strokeWidth":{"field":"c","type":"nominal","scale":{"domain":["T","S","H","G"],"range":[1.4,0.9,1.4,1]},"legend":null}}},
{"data":{"name":"o"},"mark":{"type":"errorbar","ticks":{"size":5},"color":"#808080"},"encoding":{"x":{"field":"rc","type":"quantitative","scale":{"domain":[0,10.7]},"axis":{"values":[0,2,4,6,8,10],"title":"Radius [kpc]","labelOverlap":false}},"y":{"field":"vc","type":"quantitative","scale":{"domain":[0,450]},"title":"Vobs [km/s]"},"yError":{"field":"ec"}}},
{"data":{"name":"o"},"mark":{"type":"circle","size":19,"color":"black","opacity":1},"encoding":{"x":{"field":"rc","type":"quantitative","scale":{"domain":[0,10.7]},"axis":{"values":[0,2,4,6,8,10],"title":"Radius [kpc]","labelOverlap":false}},"y":{"field":"vc","type":"quantitative","scale":{"domain":[0,450]},"title":"Vobs [km/s]"}}}]},
{"title":"coreNFW ΛCDM","width":130,"height":88,"layer":[
{"data":{"name":"m"},"transform":[{"filter":"datum.p=='j'"}],"mark":{"type":"line"},"encoding":{"x":{"field":"r","type":"quantitative","scale":{"domain":[0,4.3]},"axis":{"values":[0,1,2,3,4],"title":"Radius [kpc]","labelOverlap":false}},"y":{"field":"v","type":"quantitative","scale":{"domain":[0,90]},"axis":{"values":[0,20,40,60,80],"title":null}},"color":{"field":"c","type":"nominal","scale":{"domain":["T","S","H","G"],"range":["#ff0000","#000000","#0000ff","#009900"]},"legend":null},"strokeDash":{"field":"c","type":"nominal","scale":{"domain":["T","S","H","G"],"range":[[1,0],[3,2,1,2],[5,3],[1,2]]},"legend":null},"strokeWidth":{"field":"c","type":"nominal","scale":{"domain":["T","S","H","G"],"range":[1.4,0.9,1.4,1]},"legend":null}}},
{"data":{"name":"o"},"mark":{"type":"errorbar","ticks":{"size":5},"color":"#808080"},"encoding":{"x":{"field":"rk","type":"quantitative","scale":{"domain":[0,4.3]},"axis":{"values":[0,1,2,3,4],"title":"Radius [kpc]","labelOverlap":false}},"y":{"field":"vk","type":"quantitative","scale":{"domain":[0,90]},"title":null},"yError":{"field":"ek"}}},
{"data":{"name":"o"},"mark":{"type":"circle","size":19,"color":"black","opacity":1},"encoding":{"x":{"field":"rk","type":"quantitative","scale":{"domain":[0,4.3]},"axis":{"values":[0,1,2,3,4],"title":"Radius [kpc]","labelOverlap":false}},"y":{"field":"vk","type":"quantitative","scale":{"domain":[0,90]},"title":null}}}]},
{"title":"Lucky13 flat","width":130,"height":88,"layer":[
{"data":{"name":"m"},"transform":[{"filter":"datum.p=='k'"}],"mark":{"type":"line"},"encoding":{"x":{"field":"r","type":"quantitative","scale":{"domain":[0,11.8]},"axis":{"values":[0,5,10],"title":"Radius [kpc]","labelOverlap":false}},"y":{"field":"v","type":"quantitative","scale":{"domain":[0,80]},"axis":{"values":[0,20,40,60,80],"title":null}},"color":{"field":"c","type":"nominal","scale":{"domain":["T","S","H","G"],"range":["#ff0000","#000000","#0000ff","#009900"]},"legend":null},"strokeDash":{"field":"c","type":"nominal","scale":{"domain":["T","S","H","G"],"range":[[1,0],[3,2,1,2],[5,3],[1,2]]},"legend":null},"strokeWidth":{"field":"c","type":"nominal","scale":{"domain":["T","S","H","G"],"range":[1.4,0.9,1.4,1]},"legend":null}}},
{"data":{"name":"o"},"mark":{"type":"errorbar","ticks":{"size":5},"color":"#808080"},"encoding":{"x":{"field":"r","type":"quantitative","scale":{"domain":[0,11.8]},"axis":{"values":[0,5,10],"title":"Radius [kpc]","labelOverlap":false}},"y":{"field":"v","type":"quantitative","scale":{"domain":[0,80]},"title":null},"yError":{"field":"e"}}},
{"data":{"name":"o"},"mark":{"type":"circle","size":19,"color":"black","opacity":1},"encoding":{"x":{"field":"r","type":"quantitative","scale":{"domain":[0,11.8]},"axis":{"values":[0,5,10],"title":"Radius [kpc]","labelOverlap":false}},"y":{"field":"v","type":"quantitative","scale":{"domain":[0,80]},"title":null}}}]},
{"title":"Lucky13 ΛCDM","width":130,"height":88,"layer":[
{"data":{"name":"m"},"transform":[{"filter":"datum.p=='l'"}],"mark":{"type":"line"},"encoding":{"x":{"field":"r","type":"quantitative","scale":{"domain":[0,12]},"axis":{"values":[0,5,10],"title":"Radius [kpc]","labelOverlap":false}},"y":{"field":"v","type":"quantitative","scale":{"domain":[0,80]},"axis":{"values":[0,20,40,60,80],"title":null}},"color":{"field":"c","type":"nominal","scale":{"domain":["T","S","H","G"],"range":["#ff0000","#000000","#0000ff","#009900"]},"legend":null},"strokeDash":{"field":"c","type":"nominal","scale":{"domain":["T","S","H","G"],"range":[[1,0],[3,2,1,2],[5,3],[1,2]]},"legend":null},"strokeWidth":{"field":"c","type":"nominal","scale":{"domain":["T","S","H","G"],"range":[1.4,0.9,1.4,1]},"legend":null}}},
{"data":{"name":"o"},"mark":{"type":"errorbar","ticks":{"size":5},"color":"#808080"},"encoding":{"x":{"field":"rl","type":"quantitative","scale":{"domain":[0,12]},"axis":{"values":[0,5,10],"title":"Radius [kpc]","labelOverlap":false}},"y":{"field":"v","type":"quantitative","scale":{"domain":[0,80]},"title":null},"yError":{"field":"e"}}},
{"data":{"name":"o"},"mark":{"type":"circle","size":19,"color":"black","opacity":1},"encoding":{"x":{"field":"rl","type":"quantitative","scale":{"domain":[0,12]},"axis":{"values":[0,5,10],"title":"Radius [kpc]","labelOverlap":false}},"y":{"field":"v","type":"quantitative","scale":{"domain":[0,80]},"title":null}}}]}
]
}
